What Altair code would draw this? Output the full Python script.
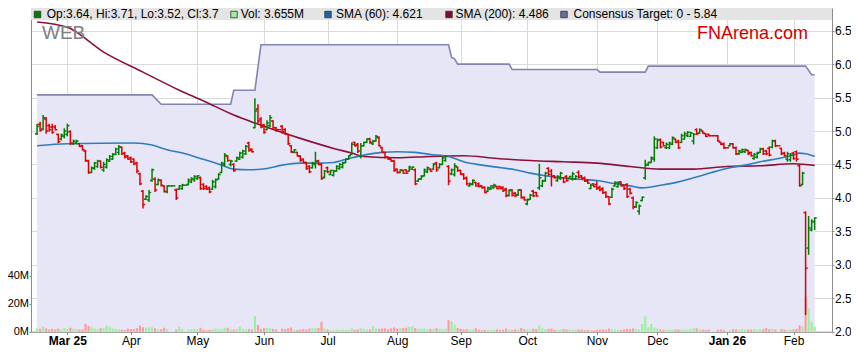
import altair as alt
import pandas as pd

# ---------------- data ----------------
first_day = "2025-02-17"
last_day = "2026-02-11"

opens = [4.96,5.10,5.03,5.18,5.08,5.06,5.06,4.95,4.88,4.92,
         4.95,4.99,4.81,4.82,4.81,4.78,4.70,4.55,4.38,4.44,
         4.47,4.55,4.42,4.46,4.55,4.58,4.65,4.68,4.76,4.67,
         4.63,4.60,4.58,4.52,4.36,4.10,3.98,3.97,4.26,4.28,
         4.20,4.26,4.18,4.09,4.18,4.18,4.12,4.13,4.14,4.19,
         4.20,4.24,4.27,4.29,4.30,4.20,4.17,4.15,4.13,4.17,
         4.28,4.38,4.50,4.62,4.50,4.50,4.55,4.58,4.61,4.66,
         4.82,4.73,5.05,5.33,5.18,5.09,5.02,5.08,5.15,5.05,
         5.02,5.07,5.02,4.95,4.78,4.68,4.68,4.62,4.58,4.53,
         4.47,4.45,4.50,4.55,4.50,4.31,4.45,4.35,4.34,4.40,
         4.44,4.46,4.53,4.58,4.65,4.83,4.80,4.62,4.78,4.83,
         4.88,4.81,4.85,4.90,4.75,4.68,4.61,4.58,4.55,4.43,
         4.38,4.41,4.42,4.40,4.43,4.42,4.25,4.28,4.33,4.39,
         4.43,4.43,4.52,4.45,4.50,4.56,4.47,4.36,4.35,4.46,
         4.41,4.35,4.30,4.18,4.20,4.23,4.21,4.18,4.16,4.10,
         4.13,4.15,4.17,4.17,4.16,4.13,4.04,4.12,4.07,4.05,
         4.12,4.01,3.91,3.98,4.10,4.08,4.15,4.18,4.26,4.44,
         4.40,4.33,4.26,4.29,4.30,4.32,4.29,4.28,4.28,4.38,
         4.33,4.30,4.26,4.14,4.21,4.20,4.16,4.14,4.08,4.02,
         4.01,4.18,4.17,4.24,4.19,4.20,4.13,4.00,3.87,3.80,
         3.96,4.30,4.49,4.53,4.58,4.75,4.87,4.83,4.75,4.75,
         4.80,4.88,4.85,4.83,4.88,4.93,4.92,4.85,5.02,4.97,
         5.00,4.96,4.95,4.93,4.93,4.93,4.83,4.81,4.75,4.78,
         4.81,4.75,4.66,4.68,4.69,4.71,4.68,4.59,4.61,4.68,
         4.73,4.70,4.74,4.76,4.85,4.78,4.74,4.67,4.58,4.57,
         4.67,4.69,4.48,4.20,3.78,3.25,3.52,3.64]
highs = [5.11,5.14,5.24,5.21,5.11,5.11,5.09,4.96,4.96,5.04,
         5.11,5.01,4.87,4.87,4.82,4.79,4.72,4.57,4.47,4.54,
         4.57,4.56,4.54,4.59,4.64,4.67,4.75,4.79,4.77,4.69,
         4.64,4.62,4.59,4.54,4.38,4.12,4.04,4.12,4.44,4.31,
         4.29,4.28,4.19,4.19,4.18,4.18,4.14,4.19,4.21,4.19,
         4.29,4.31,4.34,4.34,4.32,4.22,4.19,4.17,4.27,4.29,
         4.37,4.54,4.67,4.64,4.57,4.52,4.62,4.69,4.72,4.79,
         4.84,4.74,5.49,5.40,5.21,5.11,5.16,5.24,5.16,5.06,
         5.02,5.09,5.04,4.96,4.79,4.73,4.69,4.64,4.59,4.54,
         4.49,4.54,4.69,4.57,4.52,4.42,4.47,4.42,4.42,4.49,
         4.52,4.54,4.59,4.64,4.83,4.84,4.82,4.82,4.84,4.89,
         4.90,4.87,4.94,4.92,4.77,4.69,4.62,4.59,4.57,4.44,
         4.43,4.42,4.43,4.48,4.47,4.44,4.29,4.34,4.44,4.47,
         4.44,4.52,4.54,4.52,4.62,4.64,4.49,4.44,4.52,4.47,
         4.42,4.37,4.32,4.23,4.28,4.24,4.23,4.19,4.17,4.17,
         4.19,4.21,4.18,4.18,4.17,4.15,4.13,4.13,4.09,4.13,
         4.13,4.02,3.99,4.06,4.12,4.09,4.51,4.27,4.39,4.46,
         4.43,4.34,4.34,4.39,4.31,4.34,4.33,4.39,4.34,4.41,
         4.34,4.32,4.28,4.21,4.22,4.25,4.18,4.16,4.10,4.03,
         4.15,4.25,4.25,4.25,4.20,4.22,4.15,4.02,3.95,3.90,
         4.02,4.57,4.54,4.62,4.92,4.89,4.89,4.84,4.83,4.84,
         4.92,4.89,4.87,4.96,4.99,5.00,4.99,4.97,5.04,5.04,
         5.01,4.97,4.96,4.93,4.93,4.94,4.84,4.83,4.75,4.82,
         4.82,4.77,4.72,4.74,4.74,4.72,4.69,4.67,4.69,4.75,
         4.75,4.72,4.77,4.87,4.87,4.78,4.75,4.69,4.69,4.67,
         4.69,4.71,4.51,4.39,3.80,3.73,3.68,3.71]
lows = [4.94,4.99,5.01,4.96,4.99,4.96,5.01,4.82,4.86,4.89,
        4.92,4.79,4.79,4.80,4.76,4.71,4.54,4.36,4.37,4.42,
        4.45,4.44,4.39,4.44,4.54,4.57,4.64,4.64,4.64,4.59,
        4.57,4.52,4.49,4.37,4.19,3.84,3.97,3.94,4.24,4.09,
        4.19,4.17,4.08,4.07,4.18,4.18,3.97,4.12,4.12,4.19,
        4.19,4.22,4.24,4.27,4.12,4.12,4.12,4.07,4.12,4.14,
        4.27,4.37,4.47,4.54,4.47,4.39,4.54,4.57,4.59,4.64,
        4.69,4.68,5.04,5.11,5.04,4.96,5.01,5.06,5.02,4.99,
        5.02,4.96,4.94,4.79,4.67,4.67,4.62,4.54,4.52,4.42,
        4.37,4.44,4.44,4.49,4.27,4.29,4.37,4.34,4.32,4.39,
        4.42,4.44,4.52,4.57,4.64,4.77,4.67,4.59,4.77,4.82,
        4.81,4.79,4.84,4.77,4.67,4.59,4.57,4.54,4.39,4.37,
        4.37,4.36,4.36,4.39,4.42,4.19,4.24,4.27,4.32,4.37,
        4.39,4.42,4.39,4.44,4.49,4.54,4.19,4.34,4.32,4.39,
        4.34,4.27,4.19,4.17,4.19,4.17,4.16,4.14,4.07,4.09,
        4.12,4.14,4.13,4.13,4.09,4.01,4.02,4.02,4.01,4.03,
        3.99,3.96,3.89,3.97,4.01,4.02,4.12,4.16,4.24,4.33,
        4.17,4.29,4.24,4.27,4.22,4.24,4.28,4.26,4.27,4.29,
        4.28,4.24,4.21,4.13,4.16,4.12,4.10,4.06,4.00,3.89,
        4.00,4.17,4.15,4.17,4.12,4.00,4.05,3.83,3.85,3.75,
        3.95,4.27,4.48,4.52,4.54,4.73,4.74,4.77,4.73,4.73,
        4.79,4.82,4.73,4.82,4.87,4.91,4.91,4.80,4.94,4.96,
        4.96,4.91,4.92,4.93,4.93,4.84,4.79,4.73,4.75,4.77,
        4.74,4.64,4.64,4.67,4.67,4.64,4.62,4.57,4.59,4.67,
        4.64,4.64,4.62,4.74,4.76,4.78,4.64,4.62,4.54,4.54,
        4.57,4.54,4.17,4.19,2.25,3.15,3.50,3.52]
closes = [5.07,5.01,5.20,5.00,5.02,4.98,5.02,4.84,4.94,5.00,
          5.08,4.82,4.85,4.85,4.77,4.72,4.56,4.38,4.45,4.52,
          4.55,4.46,4.50,4.57,4.62,4.65,4.73,4.76,4.66,4.61,
          4.58,4.54,4.51,4.40,4.21,3.90,4.02,4.08,4.42,4.12,
          4.27,4.19,4.10,4.18,4.18,4.18,4.00,4.18,4.19,4.19,
          4.27,4.29,4.32,4.33,4.14,4.14,4.13,4.09,4.24,4.27,
          4.35,4.52,4.64,4.56,4.55,4.41,4.60,4.67,4.70,4.77,
          4.71,4.69,5.30,5.15,5.06,4.98,5.12,5.20,5.05,5.02,
          5.02,4.99,4.96,4.81,4.69,4.72,4.63,4.56,4.53,4.44,
          4.39,4.52,4.55,4.50,4.29,4.40,4.39,4.41,4.40,4.47,
          4.50,4.52,4.58,4.63,4.80,4.78,4.70,4.78,4.83,4.88,
          4.83,4.85,4.92,4.78,4.68,4.61,4.58,4.55,4.41,4.38,
          4.42,4.37,4.37,4.46,4.46,4.21,4.28,4.32,4.42,4.45,
          4.40,4.50,4.42,4.50,4.60,4.62,4.25,4.42,4.48,4.41,
          4.36,4.29,4.21,4.21,4.26,4.18,4.17,4.15,4.08,4.15,
          4.18,4.19,4.14,4.14,4.11,4.03,4.11,4.04,4.03,4.12,
          4.00,3.97,3.97,4.04,4.03,4.03,4.30,4.25,4.37,4.35,
          4.32,4.30,4.32,4.37,4.24,4.26,4.32,4.36,4.32,4.31,
          4.29,4.25,4.22,4.19,4.17,4.14,4.12,4.08,4.02,3.91,
          4.13,4.23,4.22,4.18,4.14,4.02,4.07,3.86,3.93,3.88,
          4.01,4.50,4.53,4.60,4.88,4.86,4.76,4.78,4.80,4.82,
          4.90,4.83,4.75,4.93,4.96,4.98,4.97,4.95,4.96,5.02,
          4.97,4.92,4.93,4.93,4.93,4.85,4.80,4.75,4.75,4.81,
          4.75,4.66,4.70,4.72,4.72,4.66,4.63,4.65,4.67,4.73,
          4.66,4.66,4.64,4.85,4.78,4.78,4.66,4.63,4.66,4.64,
          4.59,4.58,4.18,4.37,2.95,3.55,3.65,3.70]
volumes_m = [2.3,2.0,3.5,2.4,1.6,2.0,1.5,2.2,1.5,2.6,
             2.0,2.8,2.1,1.8,1.5,1.6,5.6,4.2,3.4,2.2,
             1.8,2.5,2.8,4.2,3.6,2.4,2.0,1.8,1.5,1.2,
             2.2,1.8,1.9,2.5,4.3,3.2,2.8,3.0,3.2,2.4,
             1.5,1.8,2.8,2.0,0,0,1.5,3.5,1.8,0,
             1.5,1.8,2.0,1.6,2.8,1.5,1.0,1.2,1.8,2.2,
             2.0,1.6,2.8,2.8,1.7,1.5,1.8,3.5,2.0,1.6,
             1.8,1.5,11.2,4.8,1.8,2.6,2.8,2.6,2.0,1.5,
             0,2.2,1.8,2.5,3.0,1.3,1.2,1.5,1.8,1.4,
             2.2,2.4,2.8,2.6,7.0,2.3,1.5,1.2,1.0,1.3,
             1.1,1.5,1.0,1.2,2.4,1.4,1.5,2.5,1.8,1.4,
             1.6,4.0,2.2,2.0,2.2,2.4,1.6,2.4,3.0,2.3,
             2.4,2.6,2.8,3.4,3.8,2.5,2.0,2.0,2.2,1.8,
             2.0,1.8,2.5,2.0,1.8,2.0,8.3,7.6,5.0,2.6,
             2.0,1.6,1.8,1.6,1.4,2.4,1.5,1.0,1.3,1.2,
             1.0,1.2,1.6,1.3,1.4,2.2,1.6,1.2,1.6,1.5,
             2.6,1.7,1.6,1.5,2.0,1.8,4.5,2.4,1.8,2.0,
             2.2,1.4,1.2,1.6,1.8,1.5,1.4,1.3,1.6,1.6,
             1.5,1.0,1.2,1.1,1.0,1.2,1.5,1.6,1.4,2.2,
             1.8,1.5,1.4,1.2,1.6,2.0,1.8,2.4,1.8,1.5,
             5.5,11.0,3.2,5.5,2.8,2.2,1.6,1.4,1.2,1.5,
             1.4,1.6,1.6,1.5,1.4,1.6,1.8,2.8,2.4,1.6,
             1.4,1.2,1.5,0,0,1.4,1.6,1.3,0,1.2,
             1.8,1.6,1.5,1.8,1.4,1.6,1.5,1.8,1.4,1.6,
             1.7,2.6,1.8,2.0,1.5,0,1.8,1.6,1.4,1.5,
             1.6,2.0,4.5,3.8,25.0,16.6,7.0,3.655]

sma60_idx = [0,10,32,38,43,49,54,61,65,70,76,81,87,92,98,103,108,114,119,125,130,
             136,141,147,152,158,163,168,174,179,185,190,196,200,206,212,217,223,
             228,234,239,245,250,252,254,257]
sma60_val = [4.78,4.81,4.82,4.79,4.72,4.66,4.59,4.49,4.43,4.42,4.44,4.49,4.52,4.52,
             4.53,4.59,4.64,4.68,4.69,4.68,4.65,4.62,4.54,4.49,4.46,4.42,4.37,4.33,
             4.30,4.28,4.26,4.22,4.18,4.15,4.19,4.24,4.30,4.38,4.44,4.49,4.54,4.59,
             4.64,4.67,4.66,4.621]

sma200_idx = [0,10,22,35,47,55,65,72,87,98,104,108,119,130,141,152,163,174,185,196,
              206,217,228,239,250,257]
sma200_val = [6.63,6.55,6.18,5.88,5.61,5.45,5.24,5.12,4.89,4.74,4.67,4.62,4.60,4.62,
              4.63,4.59,4.56,4.54,4.52,4.47,4.43,4.43,4.47,4.48,4.51,4.486]

target_idx = [0,38,41,64,65,72,74,136,137,138,139,156,157,185,186,201,202,254,256,257]
target_val = [5.54,5.54,5.40,5.40,5.61,5.61,6.29,6.29,6.10,6.08,6.00,6.00,5.92,5.92,
              5.88,5.88,5.97,5.97,5.84,5.84]

price_ticks = [2.0,2.5,3.0,3.5,4.0,4.5,5.0,5.5,6.0,6.5]
volume_ticks = [0,20,40]

# ---------------- build tables ----------------
dates = pd.bdate_range(first_day, last_day)
n = len(dates)
assert n == len(opens) == len(highs) == len(lows) == len(closes) == len(volumes_m)

dirs = []
prev = "up"
for o, c in zip(opens, closes):
    if c > o:
        d = "up"
    elif c < o:
        d = "down"
    else:
        d = prev
    dirs.append(d)
    prev = d

bars = pd.DataFrame({"i": list(range(n)), "o": opens, "h": highs, "l": lows,
                     "c": closes, "v": volumes_m, "d": dirs})
sma60 = pd.DataFrame({"i": sma60_idx, "v": sma60_val})
sma200 = pd.DataFrame({"i": sma200_idx, "v": sma200_val})
target = pd.DataFrame({"i": target_idx, "v": target_val})

# month ticks: first weekday of each month
tick_idx, tick_lab = [], []
seen = set()
for i, d in enumerate(dates):
    key = (d.year, d.month)
    if key in seen:
        continue
    seen.add(key)
    if i == 0:
        continue
    lab = d.strftime("%b")
    if not tick_idx or d.month == 1:
        lab += " " + d.strftime("%y")
    tick_idx.append(i)
    tick_lab.append(lab)

label_expr = ""
for i, lab in zip(tick_idx, tick_lab):
    label_expr += f"datum.value == {i} ? '{lab}' : "
label_expr += "''"
bold_test = " || ".join(f"datum.value == {i}" for i, lab in zip(tick_idx, tick_lab) if " " in lab)

# ---------------- styling ----------------
FONT = "Liberation Sans"
W, H = 801, 323.7
GREEN, RED = "#007f00", "#dd0000"
VGREEN, VRED = "#9cf09c", "#ff9a9a"
GRID = "#dadada"
AX = "#8c8c8c"

xscale = alt.Scale(domain=[-0.35, 261.07], nice=False, zero=False)
pscale = alt.Scale(domain=[2.0, 6.839], nice=False, zero=False)
vscale = alt.Scale(domain=[0, 231.2], nice=False, zero=True)

xaxis = alt.Axis(values=tick_idx, labelExpr=label_expr, title=None, grid=True,
                 gridColor=GRID, domainColor=AX, tickColor=AX, tickSize=3,
                 labelFont=FONT, labelFontSize=12, labelColor="#000",
                 labelPadding=1,
                 labelFontWeight={"condition": {"test": bold_test, "value": "bold"},
                                  "value": "normal"})
X = alt.X("i:Q", scale=xscale, axis=xaxis)

base = alt.Chart(bars)

area = alt.Chart(target).mark_area(
    color="#e6e6f6", opacity=1, interpolate="linear",
    line={"color": "#8484b4", "strokeWidth": 1.6}
).encode(
    x=X,
    y=alt.Y("v:Q", scale=pscale,
            axis=alt.Axis(orient="right", values=price_ticks, format=".1f",
                          title=None, grid=True, gridColor=GRID, domainColor=AX,
                          tickColor=AX, tickSize=2, labelPadding=0.5,
                          labelFont=FONT, labelFontSize=12, labelColor="#000")),
    y2=alt.datum(2.0),
)

vol = base.mark_bar(size=2.1).encode(
    x=X,
    y=alt.Y("v:Q", scale=vscale,
            axis=alt.Axis(orient="left", values=volume_ticks,
                          labelExpr="datum.value + 'M'", title=None, grid=False,
                          domainColor=AX, tickColor=AX, tickSize=2, labelPadding=0.5,
                          labelFont=FONT, labelFontSize=11, labelColor="#000")),
    color=alt.Color("d:N", scale=alt.Scale(domain=["up", "down"], range=[VGREEN, VRED]),
                    legend=None),
)

line60 = alt.Chart(sma60).mark_line(color="#2f7dbf", strokeWidth=1.6,
                                    interpolate="monotone").encode(
    x=X, y=alt.Y("v:Q", scale=pscale, axis=None))
line200 = alt.Chart(sma200).mark_line(color="#8a1238", strokeWidth=1.6,
                                      interpolate="monotone").encode(
    x=X, y=alt.Y("v:Q", scale=pscale, axis=None))

ohlc_color = alt.Color("d:N", scale=alt.Scale(domain=["up", "down"], range=[GREEN, RED]),
                       legend=None)
SW = 1.5
hl = base.mark_rule(strokeWidth=SW).encode(
    x=X, y=alt.Y("l:Q", scale=pscale, axis=None), y2="h:Q", color=ohlc_color)
open_tick = base.transform_calculate(xl="datum.i - 0.7").mark_rule(strokeWidth=SW).encode(
    x=alt.X("xl:Q", scale=xscale, axis=xaxis), x2="i:Q",
    y=alt.Y("o:Q", scale=pscale, axis=None), color=ohlc_color)
close_tick = base.transform_calculate(xr="datum.i + 0.7").mark_rule(strokeWidth=SW).encode(
    x=alt.X("i:Q", scale=xscale, axis=xaxis), x2="xr:Q",
    y=alt.Y("c:Q", scale=pscale, axis=None), color=ohlc_color)

one = alt.Chart(pd.DataFrame({"k": [0]}))

def txt(s, x, y, size=12, color="#000", align="left", weight="normal"):
    return one.mark_text(text=s, font=FONT, fontSize=size, color=color, align=align,
                         baseline="middle", fontWeight=weight).encode(
        x=alt.value(x), y=alt.value(y))

def sq(x, y, color):
    return one.mark_square(size=42, fill=color, stroke="#303030", strokeWidth=0.8,
                           opacity=1).encode(x=alt.value(x), y=alt.value(y))

legend_bar = one.mark_rect(color="#e4e4e4").encode(
    x=alt.value(0), x2=alt.value(W), y=alt.value(0), y2=alt.value(12))

ly = 6.5
legend_layers = [
    legend_bar,
    sq(6.5, ly, GREEN),
    txt(f"Op:{opens[-1]}, Hi:{highs[-1]}, Lo:{lows[-1]}, Cl:{closes[-1]}", 15.7, ly),
    sq(203, ly, VGREEN),
    txt(f"Vol: {volumes_m[-1]}M", 209.7, ly),
    sq(297, ly, "#1f64a8"),
    txt(f"SMA (60): {sma60_val[-1]}", 305, ly),
    sq(418, ly, "#7e0e2e"),
    txt(f"SMA (200): {sma200_val[-1]}", 424.5, ly),
    sq(533, ly, "#6c6ca0"),
    txt(f"Consensus Target: 0 - {target_val[-1]}", 542.5, ly),
]

code_txt = one.mark_text(text="WEB", font=FONT, fontSize=19, color="#808080",
                         align="left", baseline="alphabetic").encode(
    x=alt.value(11), y=alt.value(31))
brand_txt = one.mark_text(text="FNArena.com", font=FONT, fontSize=18, color="#d00000",
                          align="right", baseline="alphabetic").encode(
    x=alt.value(777), y=alt.value(31))

chart = alt.layer(
    area, vol, line200, line60, hl, open_tick, close_tick,
    *legend_layers, code_txt, brand_txt
).resolve_scale(
    y="independent", color="independent"
).properties(
    width=W, height=H,
    padding={"left": 23, "top": 0, "right": 19, "bottom": 19},
    autosize=alt.AutoSizeParams(type="none"),
).configure_view(stroke=None)

chart.save("out.html", embed_options={"renderer": "svg", "actions": False})
